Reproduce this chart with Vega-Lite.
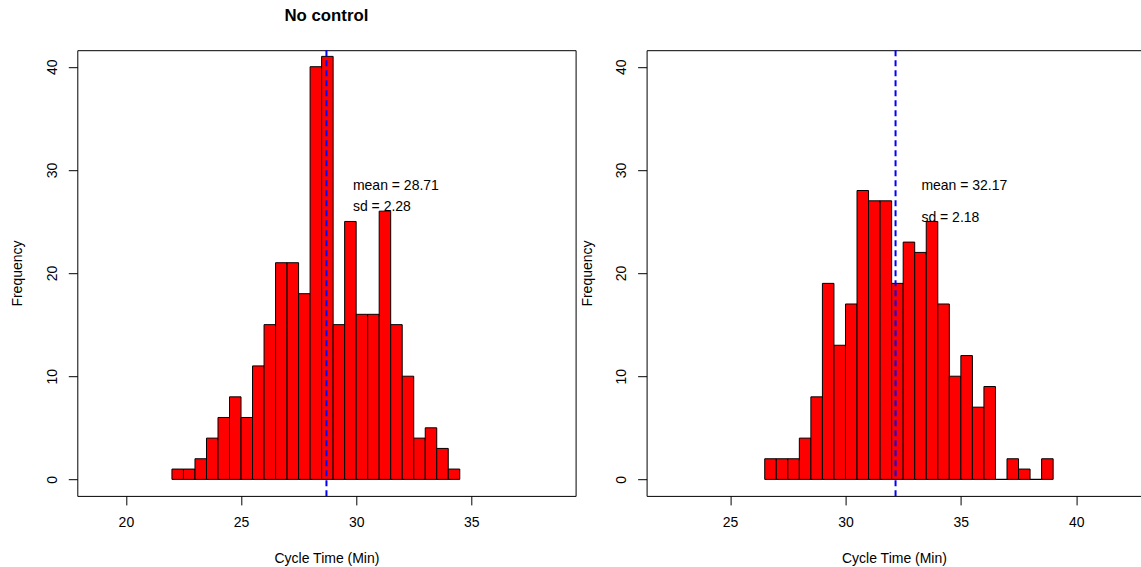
{
  "$schema": "https://vega.github.io/schema/vega-lite/v6.json",
  "background": "white",
  "padding": {"left": 10.3, "top": 7.2, "right": 0, "bottom": 0},
  "bounds": "flush",
  "spacing": 70.3,
  "datasets": {
    "left": [
      {"start": 22, "end": 22.5, "count": 1},
      {"start": 22.5, "end": 23, "count": 1},
      {"start": 23, "end": 23.5, "count": 2},
      {"start": 23.5, "end": 24, "count": 4},
      {"start": 24, "end": 24.5, "count": 6},
      {"start": 24.5, "end": 25, "count": 8},
      {"start": 25, "end": 25.5, "count": 6},
      {"start": 25.5, "end": 26, "count": 11},
      {"start": 26, "end": 26.5, "count": 15},
      {"start": 26.5, "end": 27, "count": 21},
      {"start": 27, "end": 27.5, "count": 21},
      {"start": 27.5, "end": 28, "count": 18},
      {"start": 28, "end": 28.5, "count": 40},
      {"start": 28.5, "end": 29, "count": 41},
      {"start": 29, "end": 29.5, "count": 15},
      {"start": 29.5, "end": 30, "count": 25},
      {"start": 30, "end": 30.5, "count": 16},
      {"start": 30.5, "end": 31, "count": 16},
      {"start": 31, "end": 31.5, "count": 26},
      {"start": 31.5, "end": 32, "count": 15},
      {"start": 32, "end": 32.5, "count": 10},
      {"start": 32.5, "end": 33, "count": 4},
      {"start": 33, "end": 33.5, "count": 5},
      {"start": 33.5, "end": 34, "count": 3},
      {"start": 34, "end": 34.5, "count": 1}
    ],
    "right": [
      {"start": 26.5, "end": 27, "count": 2},
      {"start": 27, "end": 27.5, "count": 2},
      {"start": 27.5, "end": 28, "count": 2},
      {"start": 28, "end": 28.5, "count": 4},
      {"start": 28.5, "end": 29, "count": 8},
      {"start": 29, "end": 29.5, "count": 19},
      {"start": 29.5, "end": 30, "count": 13},
      {"start": 30, "end": 30.5, "count": 17},
      {"start": 30.5, "end": 31, "count": 28},
      {"start": 31, "end": 31.5, "count": 27},
      {"start": 31.5, "end": 32, "count": 27},
      {"start": 32, "end": 32.5, "count": 19},
      {"start": 32.5, "end": 33, "count": 23},
      {"start": 33, "end": 33.5, "count": 22},
      {"start": 33.5, "end": 34, "count": 25},
      {"start": 34, "end": 34.5, "count": 17},
      {"start": 34.5, "end": 35, "count": 10},
      {"start": 35, "end": 35.5, "count": 12},
      {"start": 35.5, "end": 36, "count": 7},
      {"start": 36, "end": 36.5, "count": 9},
      {"start": 36.5, "end": 37, "count": 0},
      {"start": 37, "end": 37.5, "count": 2},
      {"start": 37.5, "end": 38, "count": 1},
      {"start": 38, "end": 38.5, "count": 0},
      {"start": 38.5, "end": 39, "count": 2}
    ]
  },
  "hconcat": [
    {
      "width": 498.3,
      "height": 445.7,
      "title": {"text": "No control", "fontSize": 16.8, "fontWeight": "bold", "font": "Liberation Sans", "anchor": "middle", "offset": 24, "color": "black"},
      "layer": [
        {
          "data": {"name": "left"},
          "mark": {"type": "rect", "fill": "#FF0000", "stroke": "black", "strokeWidth": 1},
          "encoding": {
            "x": {"field": "start", "type": "quantitative",
                  "scale": {"domain": [17.89, 39.53], "nice": false, "zero": false},
                  "axis": {"values": [20, 25, 30, 35], "title": "Cycle Time (Min)", "titleY": 62.3, "titleBaseline": "middle"}},
            "x2": {"field": "end"},
            "y": {"field": "count", "type": "quantitative",
                  "scale": {"domain": [-1.6, 41.6], "nice": false, "zero": false},
                  "axis": {"values": [0, 10, 20, 30, 40], "title": "Frequency", "titleX": -59.4, "titleY": 222.85}},
            "y2": {"datum": 0}
          }
        },
        {
          "data": {"values": [{"mean": 28.71}]},
          "mark": {"type": "rule", "color": "blue", "strokeWidth": 2, "strokeDash": [6, 4]},
          "encoding": {"x": {"field": "mean", "type": "quantitative"}}
        },
        {
          "data": {"values": [{"x": 29.86, "y": 28.4, "label": "mean = 28.71"}, {"x": 29.86, "y": 26.4, "label": "sd = 2.28"}]},
          "mark": {"type": "text", "align": "left", "baseline": "middle", "fontSize": 14, "font": "Liberation Sans", "color": "black"},
          "encoding": {"x": {"field": "x", "type": "quantitative"}, "y": {"field": "y", "type": "quantitative"}, "text": {"field": "label"}}
        }
      ]
    },
    {
      "width": 494.7,
      "height": 445.7,
      "layer": [
        {
          "data": {"name": "right"},
          "mark": {"type": "rect", "fill": "#FF0000", "stroke": "black", "strokeWidth": 1},
          "encoding": {
            "x": {"field": "start", "type": "quantitative",
                  "scale": {"domain": [21.38, 42.82], "nice": false, "zero": false},
                  "axis": {"values": [25, 30, 35, 40], "title": "Cycle Time (Min)", "titleY": 62.3, "titleBaseline": "middle"}},
            "x2": {"field": "end"},
            "y": {"field": "count", "type": "quantitative",
                  "scale": {"domain": [-1.6, 41.6], "nice": false, "zero": false},
                  "axis": {"values": [0, 10, 20, 30, 40], "title": "Frequency", "titleX": -59.4, "titleY": 222.85}},
            "y2": {"datum": 0}
          }
        },
        {
          "data": {"values": [{"mean": 32.17}]},
          "mark": {"type": "rule", "color": "blue", "strokeWidth": 2, "strokeDash": [6, 4]},
          "encoding": {"x": {"field": "mean", "type": "quantitative"}}
        },
        {
          "data": {"values": [{"x": 33.29, "y": 28.4, "label": "mean = 32.17"}, {"x": 33.29, "y": 25.3, "label": "sd = 2.18"}]},
          "mark": {"type": "text", "align": "left", "baseline": "middle", "fontSize": 14, "font": "Liberation Sans", "color": "black"},
          "encoding": {"x": {"field": "x", "type": "quantitative"}, "y": {"field": "y", "type": "quantitative"}, "text": {"field": "label"}}
        }
      ]
    }
  ],
  "config": {
    "font": "Liberation Sans",
    "view": {"stroke": "black", "strokeWidth": 1},
    "axis": {
      "grid": false,
      "domain": false,
      "tickSize": 9,
      "tickColor": "black",
      "tickWidth": 1,
      "labelFont": "Liberation Sans",
      "labelFontSize": 14,
      "labelColor": "black",
      "labelOverlap": false,
      "labelFlush": false,
      "titleFont": "Liberation Sans",
      "titleFontSize": 14,
      "titleFontWeight": "normal",
      "titleColor": "black"
    },
    "axisX": {"labelPadding": 10.5, "labelBaseline": "top", "labelAlign": "center", "labelAngle": 0, "titleAlign": "center"},
    "axisY": {"labelPadding": 12, "labelAngle": 270, "labelAlign": "center", "labelBaseline": "alphabetic", "titleAngle": 270, "titleAlign": "center", "titleBaseline": "middle"}
  }
}
